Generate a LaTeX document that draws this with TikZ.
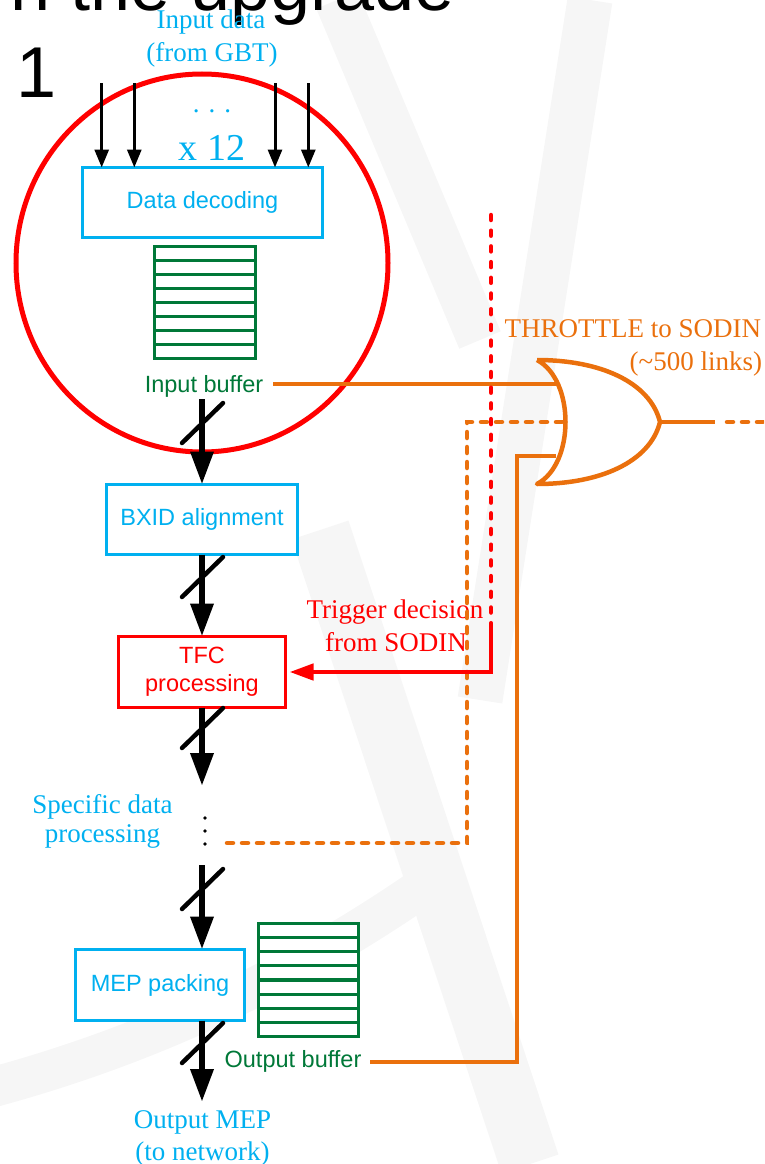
\documentclass[tikz,border=0pt]{standalone}
\usepackage{fontspec}
\setmainfont{Liberation Serif}
\newfontfamily\arial{Liberation Sans}
\usetikzlibrary{arrows.meta,calc,shapes.geometric}
\definecolor{cy}{RGB}{0,176,240}
\definecolor{rd}{RGB}{255,0,0}
\definecolor{og}{RGB}{234,112,13}
\definecolor{gn}{RGB}{0,120,56}
\definecolor{wm}{RGB}{246,246,246}
\begin{document}
\begin{tikzpicture}[x=1pt,y=-1pt,
  every node/.style={inner sep=0pt, outer sep=0pt},
  arialf/.style={font=\arial\fontsize{23.5}{28}\selectfont},
  timesf/.style={font=\fontsize{27}{33}\selectfont},
  blk/.style={draw=#1, line width=3.6pt, fill=white, arialf, text=#1, align=center},
  buf/.style={draw=gn, line width=3.4pt, fill=white,
    path picture={\foreach \k in {1,...,7}
      \draw[gn, line width=3.2pt] ($(path picture bounding box.north west)!\k/8!(path picture bounding box.south west)$) -- ++(300,0);}},
  bigarr/.style={line width=6.5pt, -{Triangle[length=33pt,width=22pt]}},
  slashmark/.style={line width=4.5pt, line cap=round},
  inarr/.style={line width=3pt, -{Triangle[length=18pt,width=14pt]}},
  oline/.style={draw=og, line width=4.5pt},
  odot/.style={draw=og, line width=4.5pt, line cap=round, dash pattern=on 6pt off 9pt},
  rline/.style={draw=rd, line width=4.5pt},
  rdot/.style={draw=rd, line width=4.5pt, line cap=round, dash pattern=on 5pt off 10.7pt},
  wmband/.style={draw=wm, line width=#1},
]
\useasboundingbox (0,0) rectangle (764,1164);
\clip (0,0) rectangle (764,1164);

% faint background watermark
\draw[wmband=45pt] (590,0) -- (480,700);
\draw[wmband=60pt] (320,530) -- (530,1164);
\draw[wmband=45pt] (337,0) -- (480,340);
\draw[wmband=40pt] (-10,1088) .. controls (150,1045) and (300,975) .. (440,875);

% slide remnants
\node[font=\arial\fontsize{72}{80}\selectfont, anchor=base east] (title) at (455,11) {n the upgrade};
\node[font=\arial\fontsize{72}{80}\selectfont, anchor=base] (one) at (37,97) {1};

% red circle
\node[draw=rd, line width=5pt, ellipse, minimum width=372pt, minimum height=378pt] (circ) at (202,263) {};

% input labels
\node[timesf, text=cy, anchor=base] (in1) at (211,29) {Input data};
\node[timesf, text=cy, anchor=base] (in2) at (212,62) {(from GBT)};
\node[timesf, text=cy, anchor=base] (idots) at (212,112) {.\hspace{9pt}.\hspace{9pt}.};
\node[font=\fontsize{38}{44}\selectfont, text=cy, anchor=base] (x12) at (212,160) {x 12};

% blocks
\node[blk=cy, minimum width=240pt, minimum height=70pt] (dd) at (202.5,202.5) {Data decoding};
\node[blk=cy, minimum width=191pt, minimum height=70pt] (bx) at (202,519.5) {BXID alignment};
\node[blk=rd, minimum width=167pt, minimum height=71pt] (tfc) at (202,672) {TFC\\processing};
\node[blk=cy, minimum width=169pt, minimum height=71pt] (mep) at (160,985) {MEP packing};

% buffers
\node[buf, minimum width=101pt, minimum height=112pt] (ib) at (205,302.5) {};
\node[buf, minimum width=100pt, minimum height=113pt] (ob) at (308.5,980) {};
\node[arialf, text=gn, anchor=base] (ibl) at (204,392) {Input buffer};
\node[arialf, text=gn, anchor=base] (obl) at (293,1067) {Output buffer};

% other labels
\node[timesf, text=cy, anchor=base] (sp1) at (102.5,813) {Specific data};
\node[timesf, text=cy, anchor=base] (sp2) at (102.5,842) {processing};
\node[timesf, text=cy, anchor=base] (om1) at (202.5,1128) {Output MEP};
\node[timesf, text=cy, anchor=base] (om2) at (202.5,1160) {(to network)};
\node[timesf, text=rd, anchor=base] (tr1) at (395,618) {Trigger decision};
\node[timesf, text=rd, anchor=base] (tr2) at (396,651) {from SODIN};
\node[timesf, text=og, anchor=base east] (th1) at (761,337) {THROTTLE to SODIN};
\node[timesf, text=og, anchor=base east] (th2) at (762,370) {(\textasciitilde500 links)};

% input arrows
\foreach \xx [count=\n] in {101.7,134.3,275,308.3} {
  \coordinate (i\n) at (\xx,83);
  \draw[inarr] (i\n) -- (i\n |- dd.north);
}

% vertical dots
\node[circle, fill=black, minimum size=3.6pt] (d1) at (205,818) {};
\node[circle, fill=black, minimum size=3.6pt] (d2) at (205,831) {};
\node[circle, fill=black, minimum size=3.6pt] (d3) at (205,844) {};

% OR gate
\coordinate (g1) at (556,384);
\coordinate (g2) at (563,422);
\coordinate (g3) at (556,456);
\coordinate (gout) at (660,422);
\draw[oline, line join=round] (537,360) .. controls (575,380) and (575,464) .. (537,484)
  .. controls (600,484) and (650,462) .. (gout)
  .. controls (650,382) and (600,360) .. (537,360);

% orange connectors
\coordinate (ibo) at (273,384);
\coordinate (obo) at (370,1062);
\coordinate (ddo) at (227,843);
\draw[oline] (ibo) -- (g1);
\draw[oline] (obo) -- (517,1062) -- (517,456) -- (g3);
\draw[odot] (ddo) -- (467,843) -- (467,422) -- (g2);
\draw[oline] (gout) -- (715,422);
\draw[odot] (727,422) -- (800,422);

% red trigger
\coordinate (rt) at (491,215);
\coordinate (rm) at (491,627);
\draw[rdot] (rt) -- (rm);
\draw[rline, -{Triangle[length=24pt,width=16pt]}] (rm) |- ([xshift=4pt]tfc.east);

% big arrows with slashes
\coordinate (a1) at (202,399);
\coordinate (a3) at (202,786);
\coordinate (a4) at (202,865);
\coordinate (a5) at (202,1102);
\draw[bigarr] (a1) -- (a1 |- bx.north);
\draw[bigarr] (bx.south) -- (tfc.north);
\draw[bigarr] (tfc.south) -- (a3);
\draw[bigarr] (a4) -- (a4 |- mep.north);
\draw[bigarr] (a5 |- mep.south) -- (a5);
\foreach \yy in {423,577,728,889,1043}
  \draw[slashmark] (202,\yy) ++(-20,20) -- ++(41,-40);
\end{tikzpicture}
\end{document}
